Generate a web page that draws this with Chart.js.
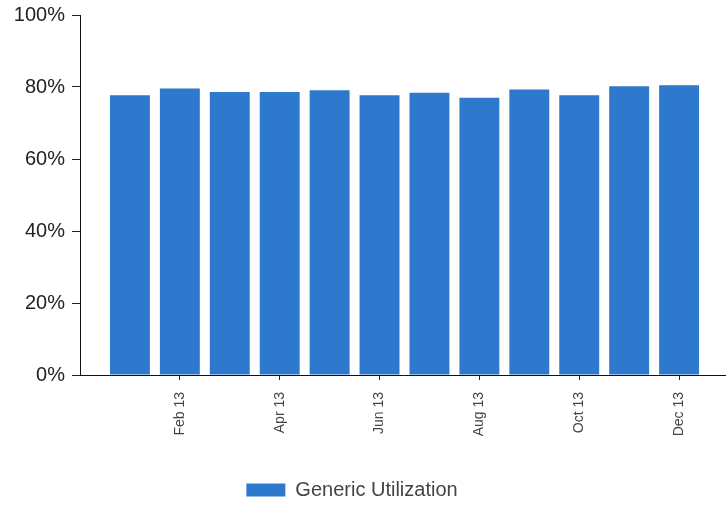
<!DOCTYPE html>
<html>
<head>
<meta charset="utf-8">
<script src="https://cdn.jsdelivr.net/npm/chart.js@4/dist/chart.umd.min.js"></script>
<style>
  html, body { margin: 0; padding: 0; background: #ffffff; }
  canvas { display: block; }
</style>
</head>
<body>
<canvas id="c" width="726" height="505"></canvas>
<script>
const months = ['Jan 13','Feb 13','Mar 13','Apr 13','May 13','Jun 13','Jul 13','Aug 13','Sep 13','Oct 13','Nov 13','Dec 13'];
const utilization = [77.7, 79.6, 78.6, 78.6, 79.1, 77.7, 78.4, 77.0, 79.3, 77.7, 80.2, 80.5];
const yTicks = [0, 20, 40, 60, 80, 100];
const seriesName = 'Generic Utilization';

const legendShift = {
  id: 'legendShift',
  afterLayout(chart) {
    const lg = chart.legend;
    if (lg) { lg.left -= 11; lg.right -= 11; lg.top += 6; lg.bottom += 6; }
  }
};

new Chart(document.getElementById('c'), {
  type: 'bar',
  data: {
    datasets: [{
      label: seriesName,
      data: months.map((m, i) => ({ x: i + 1, y: utilization[i] })),
      backgroundColor: '#2e78cd',
      borderWidth: 0,
      barPercentage: 0.8,
      categoryPercentage: 1.0
    }]
  },
  plugins: [legendShift],
  options: {
    responsive: false,
    animation: false,
    layout: { padding: { top: 15, right: 0, bottom: 1, left: 0 } },
    plugins: {
      tooltip: { enabled: false },
      legend: {
        position: 'bottom',
        labels: {
          boxWidth: 39,
          boxHeight: 13,
          padding: 4,
          color: '#444',
          font: { family: 'Liberation Sans', size: 20, lineHeight: 1 }
        }
      }
    },
    scales: {
      x: {
        type: 'linear',
        offset: false,
        min: 0,
        max: 12.94,
        afterBuildTicks(axis) {
          axis.ticks = months.map((m, i) => i + 1).filter(v => v % 2 === 0).map(v => ({ value: v }));
        },
        afterFit(scale) { scale.height = 95; },
        grid: { display: true, offset: false, drawOnChartArea: false, drawTicks: true, tickLength: 5, color: '#222' },
        border: { display: true, color: '#111', width: 1 },
        ticks: {
          autoSkip: false,
          minRotation: 90,
          maxRotation: 90,
          padding: 12,
          color: '#444',
          font: { family: 'Liberation Sans', size: 14 },
          callback: (v) => months[v - 1] || ''
        }
      },
      y: {
        min: 0,
        max: 100,
        afterBuildTicks(axis) { axis.ticks = yTicks.map(v => ({ value: v })); },
        afterFit(scale) { scale.width = 80; scale.paddingTop = 0; scale.paddingBottom = 0; },
        grid: { display: true, drawOnChartArea: false, drawTicks: true, tickLength: 8, color: '#222' },
        border: { display: true, color: '#111', width: 1 },
        ticks: {
          padding: 7,
          color: '#222',
          font: { family: 'Liberation Sans', size: 20 },
          callback: (v) => v + '%'
        }
      }
    }
  }
});
</script>
</body>
</html>
